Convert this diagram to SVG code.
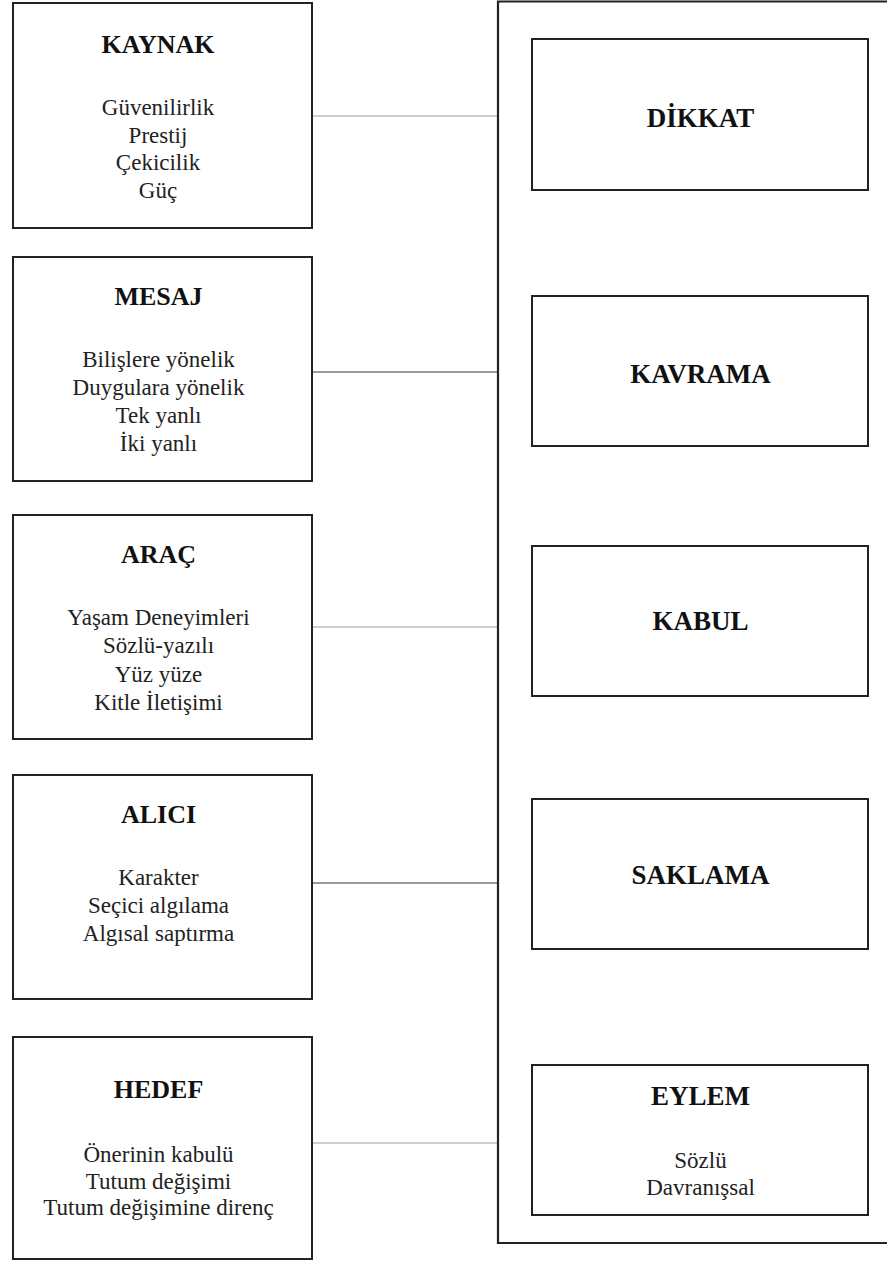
<svg xmlns="http://www.w3.org/2000/svg" width="887" height="1261" viewBox="0 0 887 1261">
<style>
.box{fill:#fff;stroke:#222;stroke-width:2}
.outer{fill:none;stroke:#222;stroke-width:2.2}
.hl{font-family:"Liberation Serif","Times New Roman",serif;font-weight:bold;font-size:26px;fill:#111;text-anchor:middle}
.hr{font-family:"Liberation Serif","Times New Roman",serif;font-weight:bold;font-size:27px;fill:#111;text-anchor:middle}
.t{font-family:"Liberation Serif","Times New Roman",serif;font-size:23px;fill:#222;text-anchor:middle}
.c1{stroke:#cfcfcf;stroke-width:2;fill:none}
.c2{stroke:#9a9a9a;stroke-width:2;fill:none}
</style>
<rect width="887" height="1261" fill="#fff"/>
<g id="connectors">
<line class="c1" x1="312" y1="116" x2="498" y2="116"/>
<line class="c2" x1="312" y1="372" x2="498" y2="372"/>
<line class="c1" x1="312" y1="627" x2="498" y2="627"/>
<line class="c2" x1="312" y1="883" x2="498" y2="883"/>
<line class="c1" x1="312" y1="1143" x2="498" y2="1143"/>
</g>
<g id="process">
<path class="outer" d="M900 1.5 H498 V1243 H900"/>
</g>
<g id="kaynak">
<rect class="box" x="13" y="3" width="299" height="225"/>
<text class="hl" x="158" y="53">KAYNAK</text>
<text class="t" x="158" y="115">Güvenilirlik</text>
<text class="t" x="158" y="142.5">Prestij</text>
<text class="t" x="158" y="170">Çekicilik</text>
<text class="t" x="158" y="197.5">Güç</text>
</g>
<g id="mesaj">
<rect class="box" x="13" y="257" width="299" height="224"/>
<text class="hl" x="158.5" y="305">MESAJ</text>
<text class="t" x="158.5" y="367">Bilişlere yönelik</text>
<text class="t" x="158.5" y="395">Duygulara yönelik</text>
<text class="t" x="158.5" y="423">Tek yanlı</text>
<text class="t" x="158.5" y="451">İki yanlı</text>
</g>
<g id="arac">
<rect class="box" x="13" y="515" width="299" height="224"/>
<text class="hl" x="158.5" y="563">ARAÇ</text>
<text class="t" x="158.5" y="625">Yaşam Deneyimleri</text>
<text class="t" x="158.5" y="653">Sözlü-yazılı</text>
<text class="t" x="158.5" y="681.5">Yüz yüze</text>
<text class="t" x="158.5" y="710">Kitle İletişimi</text>
</g>
<g id="alici">
<rect class="box" x="13" y="775" width="299" height="224"/>
<text class="hl" x="158.5" y="823">ALICI</text>
<text class="t" x="158.5" y="885">Karakter</text>
<text class="t" x="158.5" y="913">Seçici algılama</text>
<text class="t" x="158.5" y="941">Algısal saptırma</text>
</g>
<g id="hedef">
<rect class="box" x="13" y="1037" width="299" height="222"/>
<text class="hl" x="158.5" y="1098">HEDEF</text>
<text class="t" x="158.5" y="1162">Önerinin kabulü</text>
<text class="t" x="158.5" y="1188.5">Tutum değişimi</text>
<text class="t" x="158.5" y="1215">Tutum değişimine direnç</text>
</g>
<g id="dikkat">
<rect class="box" x="532" y="39" width="336" height="151"/>
<text class="hr" x="700.5" y="127">DİKKAT</text>
</g>
<g id="kavrama">
<rect class="box" x="532" y="296" width="336" height="150"/>
<text class="hr" x="700.5" y="383">KAVRAMA</text>
</g>
<g id="kabul">
<rect class="box" x="532" y="546" width="336" height="150"/>
<text class="hr" x="700.5" y="630">KABUL</text>
</g>
<g id="saklama">
<rect class="box" x="532" y="799" width="336" height="150"/>
<text class="hr" x="700.5" y="884">SAKLAMA</text>
</g>
<g id="eylem">
<rect class="box" x="532" y="1065" width="336" height="150"/>
<text class="hr" x="700.5" y="1105">EYLEM</text>
<text class="t" x="700.5" y="1168">Sözlü</text>
<text class="t" x="700.5" y="1195">Davranışsal</text>
</g>
</svg>
